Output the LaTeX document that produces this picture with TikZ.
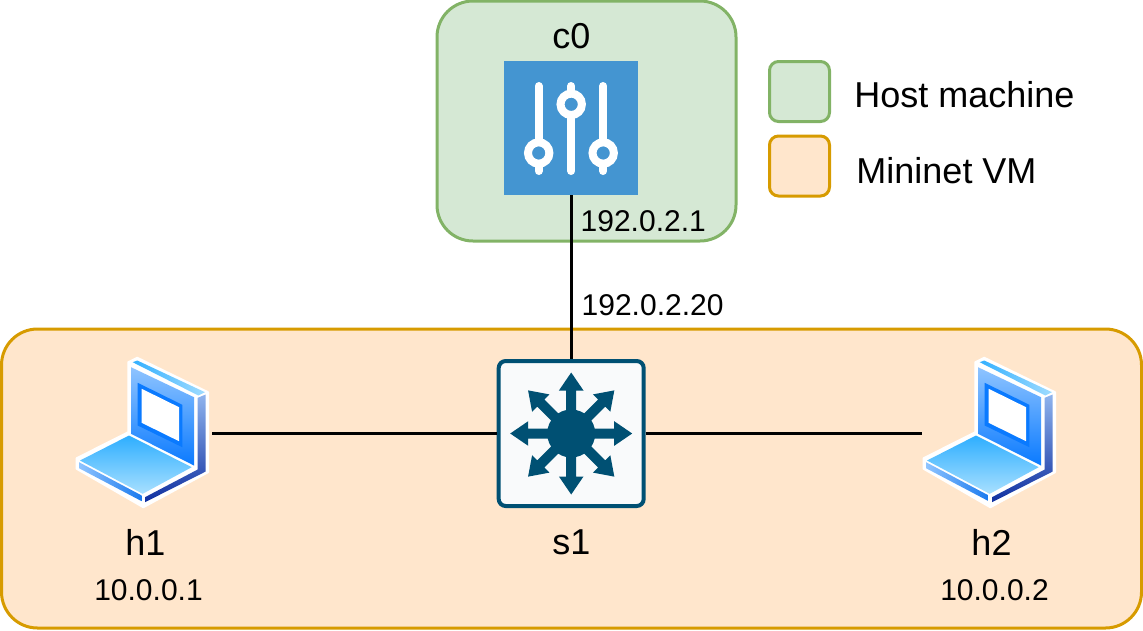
\documentclass[tikz,border=0pt]{standalone}
\usepackage{fontspec}
\setmainfont{Liberation Sans}
\definecolor{hostfill}{HTML}{D5E8D4}
\definecolor{hostline}{HTML}{82B366}
\definecolor{vmfill}{HTML}{FFE6CC}
\definecolor{vmline}{HTML}{D79B00}
\definecolor{ctrlblue}{HTML}{4495D1}
\definecolor{swblue}{HTML}{005073}
\definecolor{swfill}{HTML}{F9FAFB}
\definecolor{lidtop}{HTML}{8FC4FF}
\definecolor{lidlow}{HTML}{0A7AFF}
\definecolor{edgeleft}{HTML}{33B0FF}
\definecolor{edgeright}{HTML}{A0DCFF}
\definecolor{sidetop}{HTML}{8FB4EE}
\definecolor{sidelow}{HTML}{1030A0}
\definecolor{basetop}{HTML}{2EAEFF}
\definecolor{baselow}{HTML}{A8E0FF}
\definecolor{frontright}{HTML}{1A7AEE}
\tikzset{
	region/.style={draw,line width=3pt,rounded corners=36pt,inner sep=0pt},
	legendbox/.style={draw,line width=3pt,rounded corners=9pt,inner sep=0pt,minimum width=60pt,minimum height=60pt},
	biglabel/.style={font=\fontsize{36}{40}\selectfont,inner sep=0pt},
	smalllabel/.style={font=\fontsize{30}{34}\selectfont,inner sep=0pt},
	link/.style={line width=3pt},
	laptop/.pic={
		\fill[white,draw=white,line width=2pt,line join=round] (-13.7,-71.3) -- (-4.7,-75.7) -- (66,-41.3) -- (66,38.7) -- (1.3,73.7) -- (-65.3,35.3) -- (-65.3,24.7) -- (-13.7,-1.3) -- cycle;
		\shade[top color=lidtop,bottom color=lidlow] (-11,-66.3) -- (52,-36.3) -- (52,32) -- (-11,0.3) -- cycle;
		\shade[left color=edgeleft,right color=edgeright] (-9.3,-71.3) -- (-4.7,-73) -- (63,-41.3) -- (56.3,-38) -- cycle;
		\shade[top color=sidetop,bottom color=sidelow] (55.7,-35.7) -- (63.7,-39) -- (63.7,38) -- (3,68.7) -- (3,63.7) -- (55.7,36) -- cycle;
		\fill[lidlow] (-4.3,-50.7) -- (40.3,-28.7) -- (40.3,13.7) -- (-4.3,-8) -- cycle;
		\fill[white] (-0.3,-44.7) -- (37,-26.3) -- (37,7.7) -- (-0.3,-10.7) -- cycle;
		\shade[top color=basetop,bottom color=baselow] (-13,2) -- (49.7,33.7) -- (0.7,60.3) -- (-62,27) -- cycle;
		\shade[left color=lidtop,right color=frontright] (-63,28.7) -- (-0.3,62) -- (-0.3,67.7) -- (-63,34.7) -- cycle;
	},
	sliders/.pic={
		\foreach \sx/\ky in {-32.5/25,0/-23.7,32/25}{
			\draw[white,line width=8pt,line cap=round] (\sx,-42) -- (\sx,43);
			\draw[white,fill=ctrlblue,line width=8pt] (\sx,\ky) circle (10.7pt);
		}
	},
	swarrows/.pic={
		\fill[swblue] (0,0) circle (24pt);
		\foreach \ang in {0,45,...,315}{
			\fill[swblue,rotate=\ang] (0,-5) -- (43,-5) -- (43,-12.3) -- (61,0) -- (43,12.3) -- (43,5) -- (0,5) -- cycle;
		}
	}
}
\begin{document}
\begin{tikzpicture}[x=1pt,y=-1pt]
	\useasboundingbox (0,0) rectangle (1143,630);

	\node[region,fill=hostfill,draw=hostline,minimum width=299pt,minimum height=240pt] (host) at (586.5,121) {};
	\node[region,fill=vmfill,draw=vmline,minimum width=1140pt,minimum height=299pt] (vm) at (571.5,478.5) {};

	\node[legendbox,fill=hostfill,draw=hostline] (hostkey) at (799.5,91.5) {};
	\node[legendbox,fill=vmfill,draw=vmline] (vmkey) at (799.5,166) {};
	\node[biglabel] (hosttext) at (964.5,95) {Host machine};
	\node[biglabel] (vmtext) at (946.5,171) {Mininet VM};

	\node[fill=ctrlblue,minimum size=134pt,inner sep=0pt] (c0) at (571.2,128) {};
	\pic at (c0) {sliders};
	\node[biglabel] (c0text) at (571.5,36) {c0};

	\node[draw=swblue,fill=swfill,line width=4pt,rounded corners=7pt,minimum size=145pt,inner sep=0pt] (s1) at (571.2,433.5) {};
	\pic at (s1) {swarrows};
	\node[biglabel] (s1text) at (571.5,542) {s1};

	\node[minimum width=140pt,minimum height=146pt,inner sep=0pt] (h1) at (142,433.5) {};
	\pic at (h1) {laptop};
	\node[biglabel] (h1text) at (145.5,542) {h1};
	\node[smalllabel] (h1ip) at (148.5,590) {10.0.0.1};

	\node[minimum width=134pt,minimum height=146pt,inner sep=0pt] (h2) at (989,433.5) {};
	\pic at (h2) {laptop};
	\node[biglabel] (h2text) at (991.5,542) {h2};
	\node[smalllabel] (h2ip) at (994.5,590) {10.0.0.2};

	\draw[link] (c0.south) -- (s1.north);
	\draw[link] (h1.east) -- (s1.west);
	\draw[link] (s1.east) -- (h2.west);

	\node[smalllabel,anchor=west] (c0ip) at (580.5,221) {192.0.2.1};
	\node[smalllabel,anchor=west] (s1ip) at (581.5,305) {192.0.2.20};
\end{tikzpicture}
\end{document}
